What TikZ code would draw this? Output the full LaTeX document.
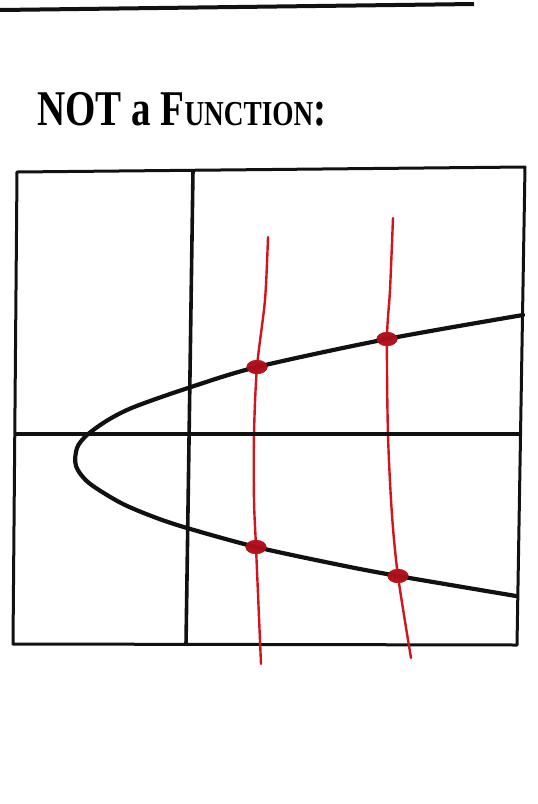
\documentclass[tikz,border=0pt]{standalone}
\usepackage{fontspec}
\setmainfont{Liberation Serif}
\usetikzlibrary{shapes.geometric}
\definecolor{Ink}  {HTML}{111111}
\definecolor{Pen}  {HTML}{D2141C}
\definecolor{PenD} {HTML}{B3101A}
\tikzset{
  frame/.style={draw=Ink, line width=3pt, line join=round},
  axisln/.style={draw=Ink, line width=3.6pt},
  graph/.style={draw=Ink, line width=4.2pt, line cap=round},
  redln/.style={draw=Pen, line width=2.4pt, line cap=round},
  % marked crossing points
  hitdot/.style={
    ellipse, fill=PenD, draw=none, opacity=0.9,
    minimum width=21pt, minimum height=14pt, inner sep=0pt,
  },
  ttl/.style={
    font=\fontsize{50}{50}\selectfont\bfseries, anchor=base west,
    inner sep=0pt,
  },
}
\begin{document}
\begin{tikzpicture}[x=1pt,y=-1pt]
  \useasboundingbox (0,0) rectangle (538,804);
  % rule at the top of the page
  \draw[draw=Ink, line width=4pt] (0,10) -- (474,4);
  \node[ttl] (title) at (37,125)
    {\scalebox{0.78}[1]{NOT a F{\fontsize{35}{35}\selectfont UNCTION}:}};
  % frame and axes
  \draw[frame] (17,172) -- (525,167) -- (517,645) -- (13,644) -- cycle;
  % hits on the curve
  \node[hitdot] (h1) at (257,367) {};
  \node[hitdot] (h2) at (387,339) {};
  \node[hitdot] (h3) at (256,547) {};
  \node[hitdot] (h4) at (398,576) {};
  % vertical line test
  \draw[redln] plot[smooth] coordinates {(268,237) (265,300) (h1)
    (254,434) (254,500) (h3) (261,664)};
  \draw[redln] plot[smooth] coordinates {(393,218) (390,290) (h2)
    (388,435) (392,515) (h4) (411,658)};
  \draw[axisln] (193,170) -- (186,645);
  \draw[axisln] (15,434) -- (521,434);
  \draw[graph] plot[smooth, tension=0.5] coordinates {(523,315) (h2)
    (h1) (188,388) (134,407) (108,420) (87,435) (77,448) (76,466)
    (89,483) (121,503) (154,517) (187,528) (h3) (340,565) (h4)
    (516,596)};
  \foreach \h in {h1,h2,h3,h4}
    \node[hitdot] at (\h) {};
\end{tikzpicture}
\end{document}
